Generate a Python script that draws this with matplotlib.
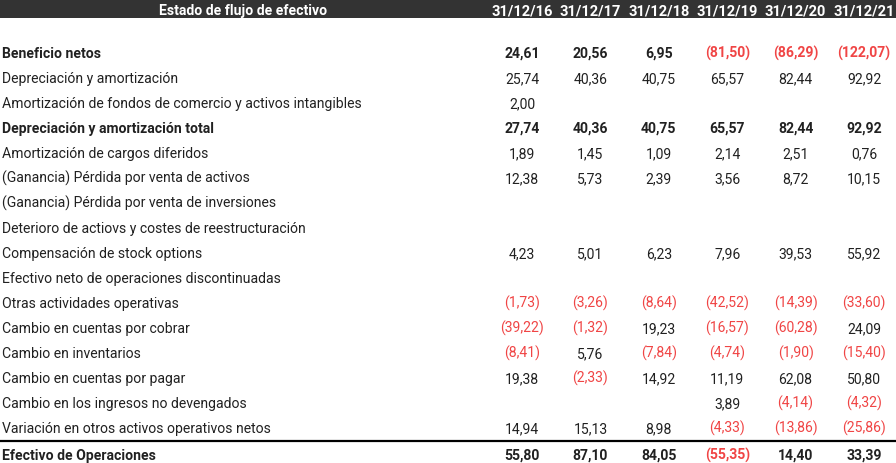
import matplotlib.pyplot as plt

# table content
TITLE = "Estado de flujo de efectivo"
YEARS = ["31/12/16", "31/12/17", "31/12/18", "31/12/19", "31/12/20", "31/12/21"]
LABELS = [
    "Beneficio netos",
    "Depreciación y amortización",
    "Amortización de fondos de comercio y activos intangibles",
    "Depreciación y amortización total",
    "Amortización de cargos diferidos",
    "(Ganancia) Pérdida por venta de activos",
    "(Ganancia) Pérdida por venta de inversiones",
    "Deterioro de actiovs y costes de reestructuración",
    "Compensación de stock options",
    "Efectivo neto de operaciones discontinuadas",
    "Otras actividades operativas",
    "Cambio en cuentas por cobrar",
    "Cambio en inventarios",
    "Cambio en cuentas por pagar",
    "Cambio en los ingresos no devengados",
    "Variación en otros activos operativos netos",
    "Efectivo de Operaciones",
]
BENEFICIO = [24.61, 20.56, 6.95, -81.50, -86.29, -122.07]
DEPRECIACION = [25.74, 40.36, 40.75, 65.57, 82.44, 92.92]
AMORT_FONDOS = [2.00, None, None, None, None, None]
DEPR_TOTAL = [27.74, 40.36, 40.75, 65.57, 82.44, 92.92]
AMORT_CARGOS = [1.89, 1.45, 1.09, 2.14, 2.51, 0.76]
VENTA_ACTIVOS = [12.38, 5.73, 2.39, 3.56, 8.72, 10.15]
VENTA_INVERSIONES = [None] * 6
DETERIORO = [None] * 6
STOCK_OPTIONS = [4.23, 5.01, 6.23, 7.96, 39.53, 55.92]
DISCONTINUADAS = [None] * 6
OTRAS = [-1.73, -3.26, -8.64, -42.52, -14.39, -33.60]
CUENTAS_COBRAR = [-39.22, -1.32, 19.23, -16.57, -60.28, 24.09]
INVENTARIOS = [-8.41, 5.76, -7.84, -4.74, -1.90, -15.40]
CUENTAS_PAGAR = [19.38, -2.33, 14.92, 11.19, 62.08, 50.80]
NO_DEVENGADOS = [None, None, None, 3.89, -4.14, -4.32]
OTROS_ACTIVOS = [14.94, 15.13, 8.98, -4.33, -13.86, -25.86]
EFECTIVO_OPER = [55.80, 87.10, 84.05, -55.35, 14.40, 33.39]

ROWS = [BENEFICIO, DEPRECIACION, AMORT_FONDOS, DEPR_TOTAL, AMORT_CARGOS,
        VENTA_ACTIVOS, VENTA_INVERSIONES, DETERIORO, STOCK_OPTIONS,
        DISCONTINUADAS, OTRAS, CUENTAS_COBRAR, INVENTARIOS, CUENTAS_PAGAR,
        NO_DEVENGADOS, OTROS_ACTIVOS, EFECTIVO_OPER]
BOLD_ROWS = {0, 3, 16}

# layout (pixel units)
W, H = 896, 464
HEADER_H = 19
FIRST_ROW = 52
ROW_H = 25
TOTAL_GAP = 2
COL0 = 522
COL_W = 68.4
FS = 10.1
HEAD_FS = 10.5
TITLE_FS = 10.1
BASE_OFF = 6

TEXT = "#212121"
RED = "#f04545"
HEADER_BG = "#333333"


def fmt(v):
    s = f"{abs(v):.2f}".replace(".", ",")
    return f"({s})" if v < 0 else s


fig = plt.figure(figsize=(W / 100, H / 100), dpi=100)
ax = fig.add_axes([0, 0, 1, 1])
ax.set_xlim(0, W)
ax.set_ylim(H, 0)
ax.axis("off")
plt.rcParams["font.family"] = ["Roboto", "DejaVu Sans"]

# header bar
ax.add_patch(plt.Rectangle((0, 0), W, HEADER_H, color=HEADER_BG, lw=0))
ax.text(243, 15, TITLE, color="white", fontsize=TITLE_FS, fontweight="bold",
        ha="center", va="baseline")
for j, year in enumerate(YEARS):
    ax.text(COL0 + j * COL_W, 15, year, color="white", fontsize=HEAD_FS,
            fontweight="bold", ha="center", va="baseline")

# body rows
for i, (label, vals) in enumerate(zip(LABELS, ROWS)):
    y = FIRST_ROW + i * ROW_H
    if i == len(LABELS) - 1:
        y += TOTAL_GAP
        ax.plot([0, W], [y - 12.5, y - 12.5], color="black", lw=1.6,
                solid_capstyle="butt")
    weight = "bold" if i in BOLD_ROWS else "normal"
    ax.text(2, y + BASE_OFF, label, color=TEXT, fontsize=FS, fontweight=weight,
            ha="left", va="baseline")
    for j, v in enumerate(vals):
        if v is None:
            continue
        ax.text(COL0 + j * COL_W, y + BASE_OFF, fmt(v),
                color=RED if v < 0 else TEXT, fontsize=FS, fontweight=weight,
                ha="center", va="baseline")

fig.savefig("out.png", dpi=100)
